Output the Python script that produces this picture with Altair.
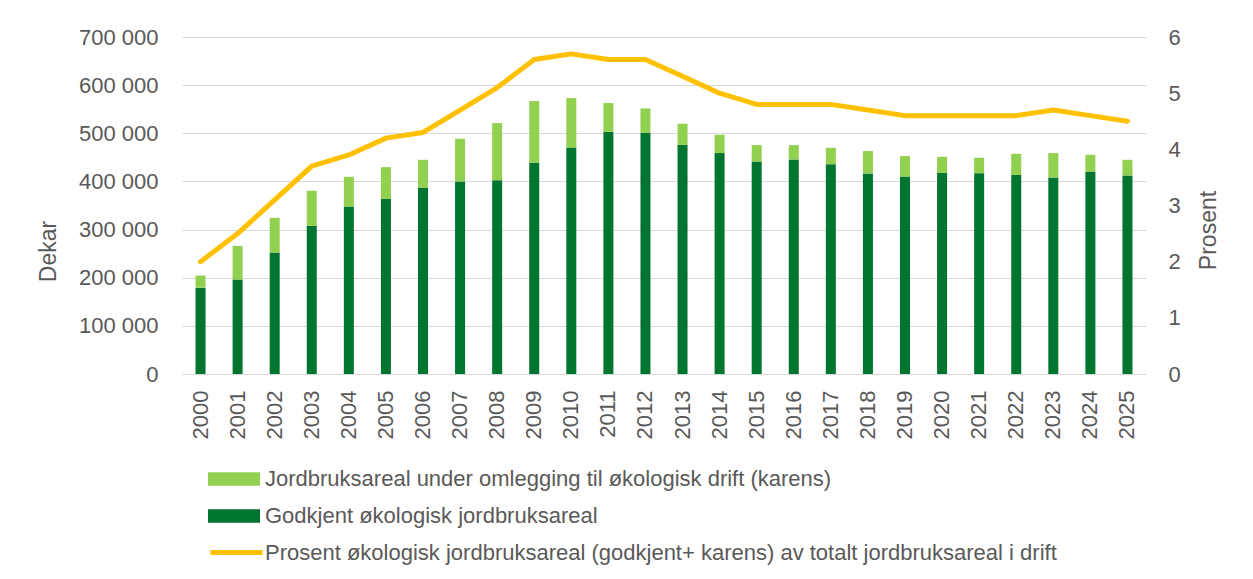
import altair as alt
import pandas as pd

years = [str(y) for y in range(2000, 2026)]
godkjent = [179400, 196100, 252200, 307700, 347900, 363800, 386700, 399800, 402600, 438700,
            470500, 503100, 501000, 476100, 458800, 441400, 445600, 435900, 416500, 410200,
            417900, 417200, 413700, 408100, 420600, 412300]
karens = [25000, 70000, 72100, 72800, 61700, 65900, 58200, 88800, 118600, 128200,
          102600, 59700, 50600, 43700, 38100, 34000, 29800, 34000, 46500, 42400,
          33200, 31900, 43700, 50700, 34700, 32600]
prosent = [2.0, 2.5, 3.1, 3.7, 3.9, 4.2, 4.3, 4.7, 5.1, 5.6, 5.7, 5.6, 5.6, 5.3, 5.0,
           4.8, 4.8, 4.8, 4.7, 4.6, 4.6, 4.6, 4.6, 4.7, 4.6, 4.5]

lab_karens = "Jordbruksareal under omlegging til økologisk drift (karens)"
lab_godkjent = "Godkjent økologisk jordbruksareal"
lab_pct = "Prosent økologisk jordbruksareal (godkjent+ karens) av totalt jordbruksareal i drift"

rows = []
for y, g, k in zip(years, godkjent, karens):
    rows.append({"year": y, "serie": lab_godkjent, "value": g, "ord": 0})
    rows.append({"year": y, "serie": lab_karens, "value": k, "ord": 1})
df_bars = pd.DataFrame(rows)
df_line = pd.DataFrame({"year": years, "pct": prosent, "serie": lab_pct})

FONT = "Liberation Sans, Arial, sans-serif"
GREY = "#595959"

xenc = alt.X("year:N", sort=years,
             scale=alt.Scale(paddingInner=0.5, paddingOuter=0.25),
             axis=alt.Axis(title=None, labelAngle=-90, labelAlign="right", labelBaseline="middle",
                           labelPadding=16, labelFontSize=22, labelColor=GREY, ticks=False,
                           domainColor="#D9D9D9", domainWidth=1, grid=False))

bars = alt.Chart(df_bars).mark_bar(size=10).encode(
    x=xenc,
    y=alt.Y("value:Q", stack="zero",
            scale=alt.Scale(domain=[0, 700000], nice=False),
            axis=alt.Axis(title="Dekar", values=[0, 100000, 200000, 300000, 400000, 500000, 600000, 700000],
                          labelExpr="replace(format(datum.value, ','), ',', ' ')",
                          labelFontSize=22, labelColor=GREY, labelPadding=24, ticks=False, domain=False,
                          grid=True, gridColor="#D9D9D9", gridWidth=1,
                          titleFontSize=23, titleColor=GREY, titleFontWeight="normal",
                          titleAngle=-90, titleX=-134, titleY=214, titleAlign="center",
                          titleBaseline="middle")),
    color=alt.Color("serie:N",
                    scale=alt.Scale(domain=[lab_karens, lab_godkjent], range=["#92D050", "#00752F"]),
                    legend=alt.Legend(title=None, orient="none", legendX=26, legendY=416,
                                      direction="vertical", symbolType="M-1,-0.256H1V0.256H-1Z",
                                      symbolSize=2704, symbolStrokeWidth=0, labelFontSize=22,
                                      labelColor=GREY, labelLimit=1200, labelOffset=5,
                                      rowPadding=-16, padding=0)),
    order=alt.Order("ord:Q"),
)

line = alt.Chart(df_line).mark_line(strokeWidth=5, strokeCap="round", strokeJoin="round").encode(
    x=xenc,
    y=alt.Y("pct:Q", scale=alt.Scale(domain=[0, 6], nice=False),
            axis=alt.Axis(title="Prosent", orient="right", values=[0, 1, 2, 3, 4, 5, 6], format="d",
                          labelFontSize=22, labelColor=GREY, labelPadding=22, ticks=False, domain=False,
                          grid=False, titleFontSize=23, titleColor=GREY, titleFontWeight="normal",
                          titleAngle=-90, titleX=62, titleY=193, titleAlign="center",
                          titleBaseline="middle")),
    stroke=alt.Stroke("serie:N", scale=alt.Scale(domain=[lab_pct], range=["#FFC000"]),
                      legend=alt.Legend(title=None, orient="none", legendX=26, legendY=487,
                                        symbolType="stroke", symbolSize=2704, symbolStrokeWidth=5,
                                        labelFontSize=22, labelColor=GREY, labelLimit=1200,
                                        labelOffset=0, padding=0)),
)

chart = alt.layer(bars, line).resolve_scale(y="independent").properties(
    width=964, height=337,
    autosize=alt.AutoSizeParams(type="none"),
    padding={"left": 174, "top": 29, "right": 95, "bottom": 195},
).configure(font=FONT).configure_view(stroke=None)

chart.save("out.html", embed_options={"renderer": "svg", "actions": False})
